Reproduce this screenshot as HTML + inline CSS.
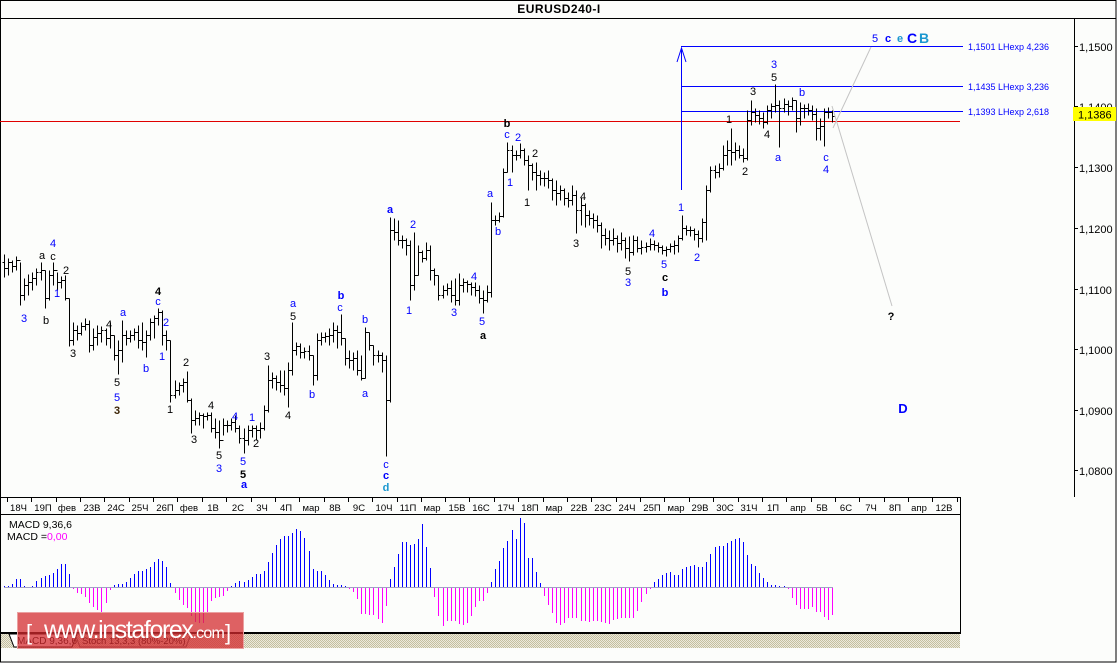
<!DOCTYPE html>
<html><head><meta charset="utf-8">
<style>
html,body{margin:0;padding:0;background:#fcfdfb;width:1117px;height:663px;overflow:hidden}
svg{display:block}
text{font-family:"Liberation Sans",sans-serif}
</style></head>
<body>
<svg width="1117" height="663" viewBox="0 0 1117 663" xmlns="http://www.w3.org/2000/svg">
<defs>
<pattern id="ck" width="2" height="2" patternUnits="userSpaceOnUse">
<rect width="2" height="2" fill="#ece9dc"/><rect width="1" height="1" fill="#c4bf9f"/><rect x="1" y="1" width="1" height="1" fill="#c4bf9f"/>
</pattern>
</defs>
<rect x="0" y="0" width="1117" height="663" fill="#fcfdfb"/>

<!-- frame -->
<g stroke="#000" stroke-width="1" fill="none" shape-rendering="crispEdges">
<rect x="0.5" y="0.5" width="1115.5" height="661.5"/>
<path d="M0 18.5H1116"/>
<path d="M1074.5 18V497"/>
<path d="M0 497.5H961"/>
<path d="M0 514.5H961"/>
<path d="M960.5 497V634"/>
<path d="M0 632.5H961M0 633.5H961"/>
</g>
<text x="559" y="13" font-size="12" font-weight="bold" letter-spacing="0.5" text-anchor="middle" fill="#000">EURUSD240-I</text>

<!-- red bid line -->
<path d="M0 121.5H960" stroke="#e00000" stroke-width="1" shape-rendering="crispEdges"/>

<!-- blue levels -->
<g stroke="#0000ff" stroke-width="1" fill="none" shape-rendering="crispEdges">
<path d="M681 46.5H963M681 86.5H963M681 111.5H963"/>
<path d="M681.5 48V190"/>
</g>
<path d="M677 62L681.5 48L686 62" stroke="#0000ff" stroke-width="1" fill="none"/>
<g font-size="9" fill="#0000ff">
<text x="968" y="50">1,1501 LHexp 4,236</text>
<text x="968" y="90">1,1435 LHexp 3,236</text>
<text x="968" y="115">1,1393 LHexp 2,618</text>
</g>

<!-- gray projection lines -->
<g stroke="#c4c4c4" stroke-width="1" fill="none">
<path d="M832 106L892 306"/>
<path d="M833 128L871 47"/>
</g>

<!-- price bars -->
<g transform="translate(0.5,0.5)" stroke="#000" stroke-width="1" fill="none" shape-rendering="crispEdges">
<path d="M4 254V277M2 262h2M4 268h2M8 258V275M6 268h2M8 262h2M12 260V272M10 262h2M12 266h2M16 256V270M14 266h2M16 260h2M20 262V305M18 260h2M20 295h2M24 278V300M22 295h2M24 285h2M28 274V295M26 285h2M28 282h2M32 272V290M30 282h2M32 278h2M36 268V285M34 278h2M36 272h2M41 262V280M39 272h2M41 270h2M45 270V308M43 270h2M45 298h2M49 270V300M47 298h2M49 275h2M53 262V285M51 275h2M53 270h2M57 272V290M55 270h2M57 282h2M61 276V288M59 282h2M61 280h2M65 275V300M63 280h2M65 298h2M69 298V346M67 298h2M69 340h2M73 322V345M71 340h2M73 330h2M77 325V340M75 330h2M77 333h2M81 322V335M79 333h2M81 326h2M85 318V330M83 326h2M85 324h2M89 320V352M87 324h2M89 345h2M93 328V350M91 345h2M93 337h2M97 325V345M95 337h2M97 333h2M101 326V342M99 333h2M101 330h2M106 328V345M104 330h2M106 338h2M110 322V348M108 338h2M110 335h2M114 335V360M112 335h2M114 355h2M118 340V374M116 355h2M118 350h2M122 320V362M120 350h2M122 335h2M126 330V345M124 335h2M126 338h2M130 330V342M128 338h2M130 335h2M134 328V340M132 335h2M134 332h2M138 325V348M136 332h2M138 340h2M142 322V350M140 340h2M142 342h2M146 330V357M144 342h2M146 335h2M150 318V340M148 335h2M150 322h2M154 315V338M152 322h2M154 318h2M158 308V325M156 318h2M158 312h2M162 310V345M160 312h2M162 335h2M166 330V350M164 335h2M166 340h2M170 340V402M168 340h2M170 395h2M175 380V398M173 395h2M175 390h2M179 382V395M177 390h2M179 385h2M183 378V392M181 385h2M183 382h2M187 371V402M185 382h2M187 400h2M191 398V433M189 400h2M191 420h2M195 410V425M193 420h2M195 418h2M199 412V425M197 418h2M199 415h2M203 413V428M201 415h2M203 416h2M207 412V420M205 416h2M207 415h2M211 412V432M209 415h2M211 428h2M215 418V438M213 428h2M215 432h2M219 420V448M217 432h2M219 440h2M223 418V435M221 440h2M223 425h2M227 420V432M225 425h2M227 425h2M231 418V430M229 425h2M231 422h2M235 415V432M233 422h2M235 428h2M239 425V443M237 428h2M239 438h2M244 428V453M242 438h2M244 440h2M248 425V445M246 440h2M248 430h2M252 425V437M250 430h2M252 428h2M256 425V440M254 428h2M256 430h2M260 422V438M258 430h2M260 428h2M264 405V430M262 428h2M264 410h2M268 365V412M266 410h2M268 380h2M272 372V388M270 380h2M272 378h2M276 375V390M274 378h2M276 382h2M280 370V392M278 382h2M280 385h2M284 370V395M282 385h2M284 388h2M288 362V407M286 388h2M288 370h2M292 322V375M290 370h2M292 350h2M296 342V355M294 350h2M296 346h2M300 343V358M298 346h2M300 352h2M304 347V358M302 352h2M304 351h2M309 345V360M307 351h2M309 355h2M313 355V385M311 355h2M313 375h2M317 333V380M315 375h2M317 340h2M321 332V345M319 340h2M321 337h2M325 332V342M323 337h2M325 336h2M329 328V345M327 336h2M329 335h2M333 322V342M331 335h2M333 330h2M337 325V348M335 330h2M337 332h2M341 314V345M339 332h2M341 338h2M345 338V365M343 338h2M345 358h2M349 350V368M347 358h2M349 360h2M353 352V370M351 360h2M353 358h2M357 350V375M355 358h2M357 370h2M361 355V380M359 370h2M361 378h2M365 327V378M363 378h2M365 332h2M369 332V350M367 332h2M369 345h2M373 345V365M371 345h2M373 355h2M378 350V362M376 355h2M378 355h2M382 352V372M380 355h2M382 360h2M386 355V456M384 360h2M386 400h2M390 217V402M388 400h2M390 230h2M394 218V240M392 230h2M394 232h2M398 220V245M396 232h2M398 240h2M402 235V248M400 240h2M402 240h2M406 238V255M404 240h2M406 245h2M410 240V300M408 245h2M410 285h2M414 232V290M412 285h2M414 275h2M418 245V275M416 275h2M418 252h2M422 250V262M420 252h2M422 258h2M426 242V260M424 258h2M426 250h2M430 245V280M428 250h2M430 270h2M434 268V285M432 270h2M434 275h2M438 275V300M436 275h2M438 295h2M443 285V298M441 295h2M443 290h2M447 283V295M445 290h2M447 288h2M451 280V302M449 288h2M451 295h2M455 278V305M453 295h2M455 300h2M459 273V305M457 300h2M459 285h2M463 278V292M461 285h2M463 282h2M467 280V292M465 282h2M467 284h2M471 282V295M469 284h2M471 287h2M475 282V296M473 287h2M475 290h2M479 285V303M477 290h2M479 298h2M483 290V313M481 298h2M483 300h2M487 285V302M485 300h2M487 292h2M491 202V297M489 292h2M491 220h2M495 215V225M493 220h2M495 220h2M499 212V222M497 220h2M499 216h2M503 168V217M501 216h2M503 172h2M507 142V172M505 172h2M507 150h2M512 145V172M510 150h2M512 155h2M516 150V160M514 155h2M516 155h2M520 143V158M518 155h2M520 150h2M524 148V165M522 150h2M524 160h2M528 155V190M526 160h2M528 165h2M532 163V180M530 165h2M532 172h2M536 162V190M534 172h2M536 175h2M540 170V185M538 175h2M540 178h2M544 172V186M542 178h2M544 178h2M548 170V188M546 178h2M548 180h2M552 178V200M550 180h2M552 190h2M556 180V205M554 190h2M556 193h2M560 185V200M558 193h2M560 190h2M564 188V205M562 190h2M564 198h2M568 192V207M566 198h2M568 200h2M572 185V205M570 200h2M572 195h2M576 190V233M574 195h2M576 210h2M581 197V225M579 210h2M581 205h2M585 203V227M583 205h2M585 215h2M589 210V225M587 215h2M589 218h2M593 213V228M591 218h2M593 220h2M597 215V232M595 220h2M597 225h2M601 222V248M599 225h2M601 235h2M605 228V245M603 235h2M605 238h2M609 230V250M607 238h2M609 240h2M613 228V245M611 240h2M613 238h2M617 235V252M615 238h2M617 243h2M621 232V250M619 243h2M621 240h2M625 237V258M623 240h2M625 248h2M629 236V261M627 248h2M629 252h2M633 235V255M631 252h2M633 240h2M637 236V252M635 240h2M637 248h2M641 240V254M639 248h2M641 247h2M646 242V252M644 247h2M646 246h2M650 238V250M648 246h2M650 244h2M654 240V250M652 244h2M654 245h2M658 242V252M656 245h2M658 247h2M662 245V254M660 247h2M662 250h2M666 246V256M664 250h2M666 249h2M670 243V252M668 249h2M670 246h2M674 240V254M672 246h2M674 245h2M678 235V252M676 245h2M678 238h2M682 215V240M680 238h2M682 228h2M686 225V235M684 228h2M686 230h2M690 226V236M688 230h2M690 230h2M694 228V240M692 230h2M694 234h2M698 230V247M696 234h2M698 238h2M702 218V242M700 238h2M702 222h2M706 185V240M704 222h2M706 190h2M710 166V192M708 190h2M710 170h2M715 165V178M713 170h2M715 172h2M719 163V177M717 172h2M719 168h2M723 145V170M721 168h2M723 155h2M727 140V165M725 155h2M727 150h2M731 128V165M729 150h2M731 152h2M735 142V160M733 152h2M735 150h2M739 145V158M737 150h2M739 155h2M743 148V162M741 155h2M743 158h2M747 110V160M745 158h2M747 120h2M751 100V125M749 120h2M751 112h2M755 108V122M753 112h2M755 115h2M759 110V124M757 115h2M759 118h2M763 112V128M761 118h2M763 122h2M767 105V124M765 122h2M767 110h2M771 103V118M769 110h2M771 106h2M775 84V112M773 106h2M775 105h2M779 100V147M777 105h2M779 108h2M784 98V112M782 108h2M784 104h2M788 100V115M786 104h2M788 106h2M792 97V110M790 106h2M792 100h2M796 100V132M794 100h2M796 118h2M800 102V125M798 118h2M800 108h2M804 104V118M802 108h2M804 108h2M808 103V115M806 108h2M808 110h2M812 105V120M810 110h2M812 114h2M816 108V140M814 114h2M816 128h2M820 118V140M818 128h2M820 126h2M824 108V146M822 126h2M824 112h2M828 107V118M826 112h2M828 112h2M832 110V122M830 112h2M832 116h2"/>
</g>

<!-- wave labels -->
<g font-size="11" text-anchor="middle">
<g fill="#0000ff">
<text x="24" y="322">3</text><text x="53" y="247">4</text><text x="57" y="297">1</text>
<text x="123" y="316">a</text><text x="117" y="401">5</text><text x="146" y="372">b</text>
<text x="158" y="305">c</text><text x="166" y="326">2</text><text x="162" y="360">1</text>
<text x="219" y="472">3</text><text x="235" y="420">4</text><text x="243" y="465">5</text>
<text x="252" y="421">1</text><text x="293" y="307">a</text><text x="312" y="398">b</text>
<text x="340" y="311">c</text><text x="365" y="323">b</text><text x="365" y="397">a</text>
<text x="386" y="468">c</text><text x="413" y="228">2</text><text x="409" y="314">1</text>
<text x="454" y="316">3</text><text x="474" y="280">4</text><text x="482" y="325">5</text>
<text x="490" y="197">a</text><text x="498" y="235">b</text><text x="507" y="138">c</text>
<text x="518" y="141">2</text><text x="510" y="186">1</text><text x="628" y="286">3</text>
<text x="652" y="237">4</text><text x="664" y="268">5</text><text x="681" y="211">1</text>
<text x="697" y="261">2</text><text x="774" y="68">3</text><text x="778" y="161">a</text>
<text x="802" y="96">b</text><text x="826" y="161">c</text><text x="826" y="173">4</text>
<text x="875" y="42">5</text>
</g>
<g fill="#0000ff" font-weight="bold">
<text x="244" y="488">a</text><text x="341" y="299">b</text><text x="386" y="479">c</text>
<text x="390" y="213">a</text><text x="665" y="296">b</text><text x="888" y="42">c</text>
<text x="912" y="43" font-size="14">C</text><text x="903" y="413" font-size="13">D</text>
</g>
<g fill="#1b98d0" font-weight="bold">
<text x="386" y="491">d</text><text x="900" y="42">e</text><text x="924" y="43" font-size="14">B</text>
</g>
<g fill="#000">
<text x="42" y="259">a</text><text x="46" y="324">b</text><text x="53" y="260">c</text>
<text x="66" y="274">2</text><text x="73" y="357">3</text><text x="109" y="328">4</text>
<text x="117" y="386">5</text><text x="170" y="413">1</text><text x="186" y="366">2</text>
<text x="194" y="443">3</text><text x="211" y="409">4</text><text x="219" y="459">5</text>
<text x="256" y="447">2</text><text x="267" y="360">3</text><text x="293" y="320">5</text>
<text x="288" y="419">4</text><text x="535" y="157">2</text><text x="527" y="206">1</text>
<text x="583" y="200">4</text><text x="576" y="247">3</text><text x="628" y="275">5</text>
<text x="729" y="123">1</text><text x="745" y="175">2</text><text x="753" y="95">3</text>
<text x="767" y="138">4</text><text x="774" y="81">5</text>
</g>
<g fill="#000" font-weight="bold">
<text x="158" y="295">4</text><text x="243" y="478">5</text><text x="483" y="339">a</text>
<text x="507" y="127">b</text><text x="665" y="281">c</text><text x="891" y="320">?</text>
</g>
<text x="117" y="414" fill="#3b2405" font-weight="bold">3</text>
</g>

<!-- price axis -->
<g stroke="#000" stroke-width="1" shape-rendering="crispEdges">
<path d="M1074 46.5H1078M1074 106.5H1078M1074 167.5H1078M1074 228.5H1078M1074 289.5H1078M1074 349.5H1078M1074 410.5H1078M1074 470.5H1078"/>
</g>
<g font-size="11" fill="#000">
<text x="1079" y="51">1,1500</text>
<text x="1079" y="111">1,1400</text>
<text x="1079" y="172">1,1300</text>
<text x="1079" y="233">1,1200</text>
<text x="1079" y="294">1,1100</text>
<text x="1079" y="354">1,1000</text>
<text x="1079" y="415">1,0900</text>
<text x="1079" y="475">1,0800</text>
</g>
<rect x="1073" y="107" width="43" height="14" fill="#ffff00"/>
<text x="1078" y="118.5" font-size="11" fill="#000">1,1386</text>

<!-- time axis -->
<g stroke="#000" stroke-width="1" shape-rendering="crispEdges" transform="translate(0.5,0)">
<path d="M7 497V502M31 497V502M56 497V502M80 497V502M104 497V502M129 497V502M153 497V502M177 497V502M202 497V502M226 497V502M251 497V502M275 497V502M299 497V502M324 497V502M348 497V502M372 497V502M397 497V502M421 497V502M445 497V502M469 497V502M494 497V502M518 497V502M543 497V502M567 497V502M591 497V502M616 497V502M640 497V502M664 497V502M689 497V502M713 497V502M738 497V502M762 497V502M786 497V502M811 497V502M835 497V502M859 497V502M884 497V502M908 497V502M932 497V502M957 497V502"/>
</g>
<g font-size="9.5" fill="#000" text-anchor="middle">
<text x="18.5" y="511">18Ч</text><text x="43" y="511">19П</text><text x="67" y="511">фев</text>
<text x="92" y="511">23В</text><text x="116" y="511">24С</text><text x="140" y="511">25Ч</text>
<text x="165" y="511">26П</text><text x="189" y="511">фев</text><text x="213" y="511">1В</text>
<text x="238" y="511">2С</text><text x="262" y="511">3Ч</text><text x="286" y="511">4П</text>
<text x="311" y="511">мар</text><text x="335" y="511">8В</text><text x="359" y="511">9С</text>
<text x="384" y="511">10Ч</text><text x="408" y="511">11П</text><text x="432" y="511">мар</text>
<text x="457" y="511">15В</text><text x="481" y="511">16С</text><text x="506" y="511">17Ч</text>
<text x="530" y="511">18П</text><text x="554" y="511">мар</text><text x="579" y="511">22В</text>
<text x="603" y="511">23С</text><text x="627" y="511">24Ч</text><text x="652" y="511">25П</text>
<text x="676" y="511">мар</text><text x="700" y="511">29В</text><text x="725" y="511">30С</text>
<text x="749" y="511">31Ч</text><text x="773" y="511">1П</text><text x="798" y="511">апр</text>
<text x="822" y="511">5В</text><text x="846" y="511">6С</text><text x="871" y="511">7Ч</text>
<text x="895" y="511">8П</text><text x="919" y="511">апр</text><text x="944" y="511">12В</text>
</g>

<!-- MACD panel -->
<text x="9" y="528" font-size="10.5" fill="#000">MACD 9,36,6</text>
<text x="7" y="540" font-size="10.5" fill="#000">MACD =<tspan fill="#ff00ff">0,00</tspan></text>
<path d="M4 587.5H833" stroke="#a0a0c4" stroke-width="1" shape-rendering="crispEdges"/>
<g transform="translate(0.5,0)" stroke-width="1" shape-rendering="crispEdges" fill="none">
<path stroke="#0000ff" d="M4 587V586M8 587V586M12 587V584M16 587V579M20 587V579M24 587V586M32 587V586M36 587V581M41 587V578M45 587V576M49 587V575M53 587V573M57 587V569M61 587V564M65 587V564M69 587V574M114 587V585M118 587V584M122 587V584M126 587V582M130 587V578M134 587V574M138 587V571M142 587V571M146 587V569M150 587V567M154 587V562M158 587V559M162 587V561M166 587V567M170 587V583M231 587V586M235 587V583M239 587V581M244 587V582M248 587V580M252 587V577M256 587V574M260 587V574M264 587V571M268 587V562M272 587V553M276 587V545M280 587V539M284 587V536M288 587V536M292 587V533M296 587V529M300 587V531M304 587V538M309 587V551M313 587V569M317 587V571M321 587V571M325 587V575M329 587V580M333 587V584M337 587V585M341 587V585M345 587V586M390 587V579M394 587V567M398 587V554M402 587V542M406 587V542M410 587V545M414 587V544M418 587V539M422 587V524M426 587V547M430 587V568M491 587V582M495 587V569M499 587V561M503 587V548M507 587V541M512 587V530M516 587V539M520 587V518M524 587V523M528 587V558M532 587V558M536 587V572M540 587V583M654 587V582M658 587V579M662 587V575M666 587V573M670 587V572M674 587V575M678 587V575M682 587V569M686 587V567M690 587V566M694 587V565M698 587V567M702 587V567M706 587V562M710 587V554M715 587V547M719 587V546M723 587V546M727 587V543M731 587V541M735 587V539M739 587V538M743 587V542M747 587V555M751 587V564M755 587V566M759 587V573M763 587V578M767 587V582M771 587V585M775 587V585M779 587V586M784 587V586"/>
<path stroke="#ff00ff" d="M73 588V589M77 588V593M81 588V594M85 588V597M89 588V603M93 588V607M97 588V610M101 588V613M106 588V603M110 588V590M175 588V593M179 588V600M183 588V605M187 588V608M191 588V616M195 588V622M199 588V623M203 588V623M207 588V612M211 588V601M215 588V598M219 588V597M223 588V596M227 588V591M349 588V589M353 588V592M357 588V599M361 588V614M365 588V614M369 588V615M373 588V615M378 588V619M382 588V623M386 588V606M434 588V597M438 588V616M443 588V626M447 588V621M451 588V621M455 588V621M459 588V624M463 588V625M467 588V623M471 588V616M475 588V607M479 588V601M483 588V601M487 588V593M544 588V596M548 588V605M552 588V613M556 588V623M560 588V625M564 588V623M568 588V618M572 588V618M576 588V618M581 588V621M585 588V621M589 588V622M593 588V621M597 588V621M601 588V622M605 588V623M609 588V624M613 588V620M617 588V619M621 588V618M625 588V618M629 588V618M633 588V618M637 588V611M641 588V602M646 588V594M650 588V589M788 588V589M792 588V598M796 588V605M800 588V609M804 588V609M808 588V609M812 588V607M816 588V612M820 588V612M824 588V617M828 588V620M832 588V615"/>
</g>

<!-- bottom tab strip -->
<rect x="1" y="634" width="959" height="14" fill="url(#ck)"/>
<polygon points="9,634 14,647 72,647 77,634" fill="#ffffff" stroke="#000" stroke-width="1"/>
<text x="17" y="644" font-size="10" fill="#000">MACD 9,36,6</text>
<polygon points="75,634 80,647 186,647 191,634" fill="none" stroke="#555" stroke-width="1"/>
<text x="82" y="644" font-size="9.5" fill="#000">Stoch 13,3,3 (80%-20%)</text>

<!-- watermark -->
<rect x="17.5" y="612.5" width="226" height="36" fill="#d42a2e" fill-opacity="0.74" stroke="#eaa0a0" stroke-width="1"/>
<g fill="#ffffff">
<text x="26" y="640" font-size="22">[</text>
<text x="44" y="638" font-size="25" letter-spacing="-1.4">www.instaforex<tspan font-size="16" letter-spacing="-0.8">.com</tspan></text>
<text x="225" y="640" font-size="22">]</text>
</g>
</svg>
</body></html>
